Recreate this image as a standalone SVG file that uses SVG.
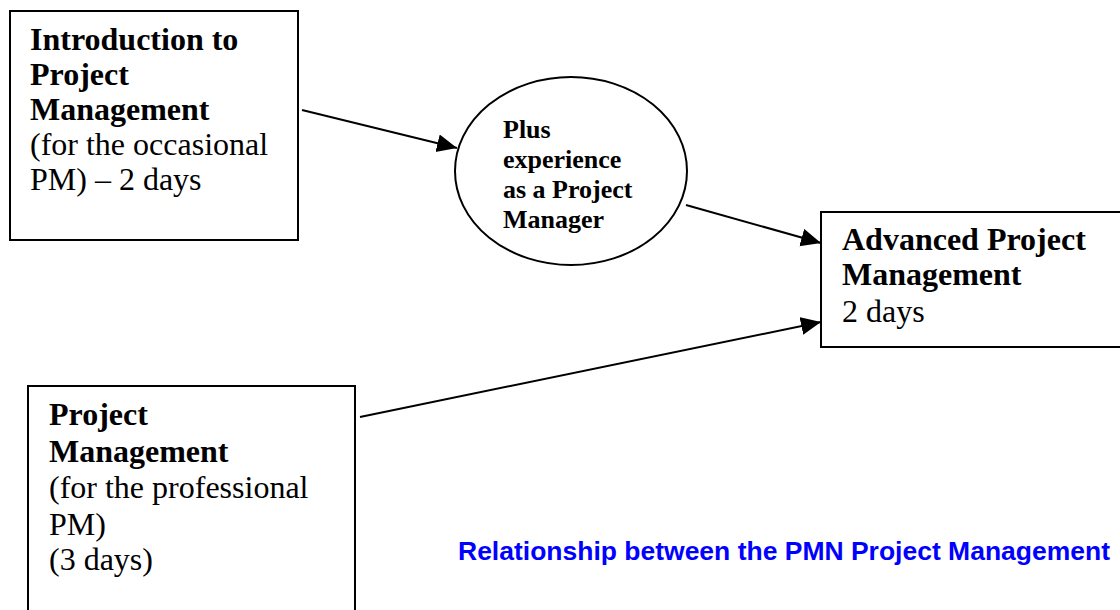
<svg xmlns="http://www.w3.org/2000/svg" width="1120" height="610" viewBox="0 0 1120 610">
<style>
.box{fill:#fff;stroke:#000;stroke-width:2}
.t{font-family:"Liberation Serif","Times New Roman",serif;font-size:32px;fill:#000}
.b{font-weight:bold}
.e{font-family:"Liberation Serif","Times New Roman",serif;font-size:26px;font-weight:bold;fill:#000}
.conn{stroke:#000;stroke-width:2;fill:none;marker-end:url(#arr)}
.cap{font-family:"Liberation Sans",Arial,sans-serif;font-size:26px;font-weight:bold;fill:#0000ff}
</style>
<defs>
<marker id="arr" markerUnits="userSpaceOnUse" markerWidth="22" markerHeight="20" refX="20" refY="9" orient="auto">
<path d="M0,0 L20,9 L0,18 z" fill="#000"/>
</marker>
</defs>
<rect width="1120" height="610" fill="#fff"/>
<g id="connectors">
<line class="conn" x1="302" y1="110" x2="457" y2="148"/>
<line class="conn" x1="686" y1="205" x2="821" y2="243"/>
<line class="conn" x1="360" y1="417" x2="821" y2="322"/>
</g>
<g id="intro">
<rect class="box" x="10" y="11" width="288" height="229"/>
<text class="t" x="30" y="50"><tspan class="b">Introduction to</tspan><tspan class="b" x="30" y="85">Project</tspan><tspan class="b" x="30" y="120">Management</tspan><tspan x="30" y="155">(for the occasional</tspan><tspan x="30" y="190">PM) – 2 days</tspan></text>
</g>
<g id="experience">
<ellipse cx="571" cy="171" rx="116" ry="94" fill="#fff" stroke="#000" stroke-width="2"/>
<text class="e" x="503" y="138">Plus<tspan x="503" y="168">experience</tspan><tspan x="503" y="198">as a Project</tspan><tspan x="503" y="228">Manager</tspan></text>
</g>
<g id="advanced">
<rect class="box" x="821" y="212" width="310" height="135"/>
<text class="t" x="842" y="250"><tspan class="b">Advanced Project</tspan><tspan class="b" x="842" y="285">Management</tspan><tspan x="842" y="322">2 days</tspan></text>
</g>
<g id="professional">
<rect class="box" x="28" y="386" width="327" height="240"/>
<text class="t" x="49" y="425"><tspan class="b">Project</tspan><tspan class="b" x="49" y="462">Management</tspan><tspan x="49" y="498">(for the professional</tspan><tspan x="49" y="535">PM)</tspan><tspan x="49" y="570">(3 days)</tspan></text>
</g>
<g id="caption">
<text class="cap" x="458" y="560" textLength="652" lengthAdjust="spacingAndGlyphs">Relationship between the PMN Project Management</text>
</g>
</svg>
